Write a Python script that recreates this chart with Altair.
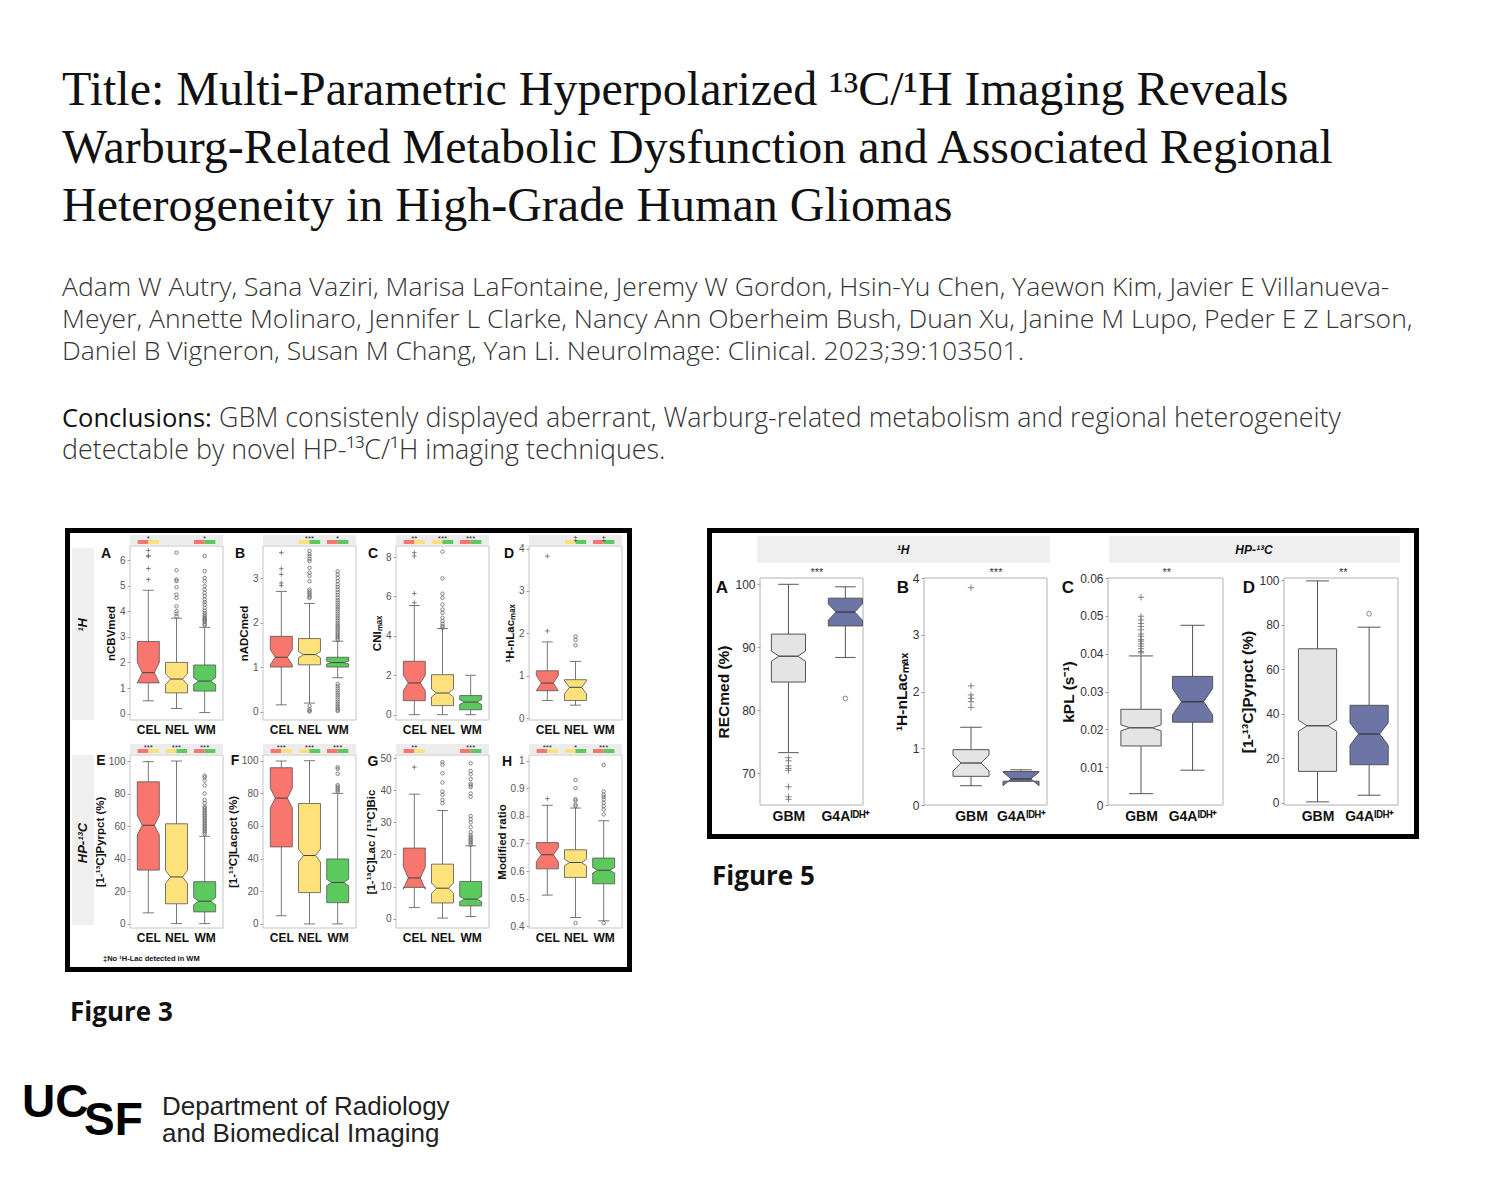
import json
import signal
import altair as alt
import pandas as pd


def _alarm(signum, frame):
    raise TimeoutError("python side too slow")


signal.signal(signal.SIGALRM, _alarm)
signal.alarm(90)

# ---------------- page text ----------------
TITLE_LINES = [
    "Title: Multi-Parametric Hyperpolarized ¹³C/¹H Imaging Reveals",
    "Warburg-Related Metabolic Dysfunction and Associated Regional",
    "Heterogeneity in High-Grade Human Gliomas",
]
AUTHOR_LINES = [
    "Adam W Autry, Sana Vaziri, Marisa LaFontaine, Jeremy W Gordon, Hsin-Yu Chen, Yaewon Kim, Javier E Villanueva-",
    "Meyer, Annette Molinaro, Jennifer L Clarke, Nancy Ann Oberheim Bush,  Duan Xu, Janine M Lupo, Peder E Z Larson,",
    "Daniel B Vigneron, Susan M Chang, Yan Li. NeuroImage: Clinical. 2023;39:103501.",
]
CONCL_LABEL = "Conclusions:"
CONCL_LINE1 = "GBM consistenly displayed aberrant, Warburg-related metabolism and regional heterogeneity"
CONCL_LINE2 = "detectable by novel HP-¹³C/¹H imaging techniques."
FIG3_LABEL = "Figure 3"
FIG5_LABEL = "Figure 5"
LOGO_TOP = "UC"
LOGO_BOTTOM = "SF"
DEPT_LINES = ["Department of Radiology", "and Biomedical Imaging"]
FOOTNOTE = "‡No ¹H-Lac detected in WM"

# ---------------- Figure 3 data ----------------
F3_CATS = ["CEL", "NEL", "WM"]
F3_ROWS = ["¹H", "HP-¹³C"]
F3_LETTERS = ["A", "B", "C", "D", "E", "F", "G", "H"]
# box rows: [whisker low, q1, median, q3, whisker high, notch half-height]
F3A_BOX = [[0.5, 1.2, 1.6, 2.82, 4.82, 0.4], [0.2, 0.81, 1.35, 2.0, 3.73, 0.22], [0.04, 0.88, 1.27, 1.9, 3.37, 0.13]]
F3A_OUT = [[6.38, 6.16, 6.16, 5.67, 5.24],
           [6.29, 5.6, 5.24, 5.18, 4.94, 4.65, 4.52, 4.19, 4.0, 3.9, 3.8],
           [6.16, 5.57, 5.3, 5.17, 4.98, 4.85, 4.72, 4.59, 4.46, 4.36, 4.26, 4.13, 4.02, 3.93, 3.84, 3.79, 3.73, 3.68, 3.63, 3.58, 3.5, 3.45]]
F3A_SIG = [[1, "*"], [3, "*"]]
F3A_TICKS = [0, 1, 2, 3, 4, 5, 6]

F3B_BOX = [[0.15, 1.0, 1.22, 1.69, 2.70, 0.17], [0.19, 1.05, 1.28, 1.64, 2.43, 0.07], [0.76, 1.0, 1.1, 1.22, 1.58, 0.03]]
F3B_OUT = [[3.57, 3.21, 3.08, 2.89, 2.83],
           [3.61, 3.54, 3.49, 3.43, 3.38, 3.23, 3.12, 3.05, 2.93, 2.74, 2.70, 2.66, 2.62, 2.58, 2.55, 0.13, 0.05, 0.02, 0.0],
           [3.15, 3.08, 3.0, 2.93, 2.86, 2.80, 2.74, 2.68, 2.62, 2.56, 2.50, 2.45, 2.40, 2.35, 2.30, 2.25, 2.20, 2.15,
            2.10, 2.05, 2.00, 1.96, 1.92, 1.88, 1.84, 1.80, 1.76, 1.72, 1.68, 1.64, 1.61,
            0.62, 0.57, 0.52, 0.47, 0.42, 0.37, 0.32, 0.27, 0.22, 0.17, 0.12, 0.08, 0.04, 0.01]]
F3B_SIG = [[2, "***"], [3, "*"]]
F3B_TICKS = [0, 1, 2, 3]

F3C_BOX = [[0, 0.71, 1.61, 2.71, 5.54, 0.4], [0, 0.46, 1.1, 2.03, 4.37, 0.2], [0, 0.25, 0.64, 0.97, 2.0, 0.12]]
F3C_OUT = [[8.22, 8.05, 6.15, 5.68],
           [8.27, 6.92, 6.14, 5.93, 5.59, 5.34, 5.17, 4.92, 4.75, 4.61, 4.49, 4.41],
           []]
F3C_SIG = [[1, "**"], [2, "***"], [3, "***"]]
F3C_TICKS = [0, 2, 4, 6, 8]

F3D_BOX = [[0.42, 0.65, 0.83, 1.12, 1.80, 0.18], [0.31, 0.42, 0.73, 0.91, 1.34, 0.15], None]
F3D_OUT = [[3.82, 2.06], [1.93, 1.85, 1.72], []]
F3D_SIG = [[2, "‡"], [3, "‡"]]
F3D_TICKS = [0, 1, 2, 3, 4]

F3E_BOX = [[6.6, 32.9, 60.5, 87.2, 99.6, 6], [0, 12.2, 28.7, 61.4, 100, 4], [0, 7.2, 13.8, 25.8, 53.7, 2.2]]
F3E_OUT = [[], [], [55, 56, 57, 58, 59, 60, 61, 62, 63, 64, 65, 66, 67, 68, 69, 70, 71, 72, 74, 76, 80, 85, 88, 90, 91]]
F3E_SIG = [[1, "***"], [2, "***"], [3, "***"]]
PCT_TICKS = [0, 20, 40, 60, 80, 100]

F3F_BOX = [[5.0, 47.2, 77.1, 95.7, 99.8, 6], [0, 19.2, 41.9, 73.8, 100, 4], [0, 13.0, 25.4, 39.8, 80, 2]]
F3F_OUT = [[], [], [81, 82, 83, 84, 85, 92, 95, 96]]
F3F_SIG = [[1, "***"], [2, "***"], [3, "***"]]

F3G_BOX = [[3.5, 9.75, 12.7, 22.0, 38.8, 3.5], [0.2, 4.9, 9.5, 17.0, 33.7, 1.6], [0.7, 4.0, 6.1, 11.6, 22.7, 0.8]]
F3G_OUT = [[47.2],
           [48.8, 48.0, 45.3, 42.4, 39.6, 38.6, 37.0, 36.0],
           [48.4, 46.0, 45.0, 43.5, 42.0, 41.5, 41.0, 39.0, 38.0, 32.0, 31.0, 30.0, 28.5, 27.0, 26.0, 25.5, 25.0, 24.5, 24.0, 23.5, 23.0]]
F3G_SIG = [[1, "**"], [3, "***"]]
F3G_TICKS = [0, 10, 20, 30, 40, 50]

F3H_BOX = [[0.513, 0.608, 0.659, 0.703, 0.838, 0.025], [0.432, 0.577, 0.631, 0.677, 0.828, 0.012], [0.42, 0.554, 0.603, 0.647, 0.782, 0.01]]
F3H_OUT = [[0.862],
           [0.93, 0.90, 0.86, 0.855, 0.84, 0.835, 0.412],
           [0.984, 0.888, 0.876, 0.868, 0.859, 0.847, 0.835, 0.823, 0.805, 0.412]]
F3H_SIG = [[1, "***"], [2, "*"], [3, "***"]]
F3H_TICKS = [0.4, 0.5, 0.6, 0.7, 0.8, 0.9, 1.0]

F3_YTITLES = ["nCBVmed", "nADCmed", "CNIₘₐₓ", "¹H-nLacₘₐₓ",
              "[1-¹³C]Pyrpct (%)", "[1-¹³C]Lacpct (%)", "[1-¹³C]Lac / [¹³C]Bic", "Modified ratio"]

# ---------------- Figure 5 data ----------------
F5_CATS = ["GBM", "G4Aᴵᴰᴴ⁺"]
F5_STRIPS = ["¹H", "HP-¹³C"]
F5_LETTERS = ["A", "B", "C", "D"]
F5_STARS = ["***", "***", "**", "**"]
F5A_BOX = [[73.3, 84.5, 88.6, 92.1, 100, 0.8], [88.4, 93.4, 95.6, 97.8, 99.6, 1.3]]
F5A_OUT = [[72.5, 72.0, 71.2, 70.8, 70.5, 67.9, 66.3, 65.9], [81.9]]
F5A_TICKS = [70, 80, 90, 100]
F5B_BOX = [[0.34, 0.505, 0.74, 0.975, 1.37, 0.14], [0.42, 0.42, 0.46, 0.59, 0.62, 0.12]]
F5B_OUT = [[3.83, 2.10, 1.94, 1.88, 1.82, 1.72], []]
F5B_TICKS = [0, 1, 2, 3, 4]
F5C_BOX = [[0.003, 0.0156, 0.0204, 0.0253, 0.0394, 0.0008], [0.0092, 0.0219, 0.0273, 0.034, 0.0475, 0.0035]]
F5C_OUT = [[0.0549, 0.0499, 0.0489, 0.048, 0.0472, 0.0463, 0.0452, 0.0446, 0.0437, 0.0433, 0.0426, 0.042, 0.0413, 0.0406, 0.0402], []]
F5C_TICKS = [0, 0.01, 0.02, 0.03, 0.04, 0.05, 0.06]
F5D_BOX = [[0.4, 14.1, 34.6, 69.2, 99.7, 2.5], [3.4, 17.1, 30.9, 43.8, 78.9, 5]]
F5D_OUT = [[], [84.9]]
F5_YTITLES = ["RECmed (%)", "¹H-nLacₘₐₓ", "kPL (s⁻¹)", "[1-¹³C]Pyrpct (%)"]

# ---------------- styles ----------------
SANS = "Liberation Sans"
SERIF = "Liberation Serif"
OPEN = "Open Sans"
CROSS = "M-1,0L1,0M0,-1L0,1"
F3_FILLS = ["#f8766d", "#fde17a", "#5bc95e"]
F3_MARK = [CROSS, "circle", "circle"]
F3_MSIZE = [22, 12, 12]
F5_FILLS = ["#e4e4e4", "#6d74a6"]
F5_MARK = [CROSS, "circle"]
F5_MSIZE = [40, 22]

df0 = pd.DataFrame({"k": [0]})


def blank(w, h):
    return alt.Chart(df0).mark_rect(opacity=0).encode(
        x=alt.value(0), x2=alt.value(w), y=alt.value(0), y2=alt.value(h)
    ).properties(width=w, height=h)


def rect(x0, x1, y0, y1, color):
    return alt.Chart(df0).mark_rect(color=color).encode(
        x=alt.value(x0), x2=alt.value(x1), y=alt.value(y0), y2=alt.value(y1))


def frame(x0, x1, y0, y1, sw, color="black"):
    return alt.Chart(df0).mark_rect(fillOpacity=0, stroke=color, strokeWidth=sw).encode(
        x=alt.value(x0), x2=alt.value(x1), y=alt.value(y0), y2=alt.value(y1))


def txt(x, y, s, size, font=SANS, weight="normal", color="#111", style="normal",
        lh=None, align="left", baseline="alphabetic", angle=None):
    mk = dict(align=align, baseline=baseline, font=font, fontSize=size,
              fontWeight=weight, color=color, fontStyle=style)
    if lh:
        mk["lineHeight"] = lh
    if angle is not None:
        mk["angle"] = angle
    return alt.Chart(df0).mark_text(**mk).encode(
        x=alt.value(x), y=alt.value(y), text=alt.value(s))


def deco(w, h, items):
    return alt.layer(blank(w, h), *items).properties(width=w, height=h)


def box_panel(box, out, cats, fills, marks, msizes, xdom, ydom, yticks, w, H, y_top, ph,
              ytitle, letter, ldx, ldy, lfs, lab_fs, tick_fs, title_fs, bw, capf,
              framec, sig=None, star=None, tick_color="#555",
              edge="#555", med_col="#444", wcol="#555", sw=0.9):
    xs = alt.Scale(domain=xdom, nice=False, zero=False)
    ys = alt.Scale(domain=ydom, range=[y_top + ph, y_top], nice=False, zero=False)
    lexpr = json.dumps(cats, ensure_ascii=False) + "[round(datum.value) - 1]"
    xkw = dict(values=list(range(1, len(cats) + 1)), labelExpr=lexpr, title=None,
               ticks=False, domain=False, grid=False, labelFont=SANS,
               labelFontSize=lab_fs, labelFontWeight="bold", labelColor="#111",
               labelPadding=4, labelOverlap=False, labelFlush=False)
    if y_top + ph != H:
        xkw["offset"] = y_top + ph - H
    xaxis = alt.Axis(**xkw)
    yaxis = alt.Axis(values=yticks, labelExpr="format(datum.value, '~g')", title=ytitle,
                     grid=False, domain=False,
                     tickSize=3, tickColor="#999", labelFont=SANS, labelFontSize=tick_fs,
                     labelColor=tick_color, labelPadding=2, labelFlush=False,
                     labelOverlap=False, titleFont=SANS, titleFontSize=title_fs,
                     titleFontWeight="bold", titleColor="#111", titlePadding=3)

    def X(f, **kw):
        return alt.X(f, scale=xs, axis=xaxis, **kw)

    def Y(f, **kw):
        return alt.Y(f, scale=ys, axis=yaxis, **kw)

    poly, meds, whisk, caps, pts = [], [], [], [], []
    for i, cat in enumerate(cats):
        b = box[i]
        c = i + 1
        if b is not None:
            wlo, q1, md, q3, whi, nt = b
            hw = bw / 2.0
            nw = hw * 0.55
            cw = hw * capf
            outline = [(-hw, q1), (-hw, md - nt), (-nw, md), (-hw, md + nt), (-hw, q3),
                       (hw, q3), (hw, md + nt), (nw, md), (hw, md - nt), (hw, q1), (-hw, q1)]
            for k, (dx, yy) in enumerate(outline):
                poly.append(dict(cat=cat, k=k, px=c + dx, py=yy, fill=fills[i]))
            meds.append(dict(y=md, xl=c - nw, xr=c + nw))
            whisk.append(dict(x=c, y1=wlo, y2=q1))
            whisk.append(dict(x=c, y1=q3, y2=whi))
            caps.append(dict(y=wlo, xl=c - cw, xr=c + cw))
            caps.append(dict(y=whi, xl=c - cw, xr=c + cw))
        for v in out[i]:
            pts.append(dict(x=c, y=v, shape=marks[i], size=msizes[i]))

    layers = [frame(0, w, y_top, y_top + ph, 1, framec)]
    if sig is not None:
        layers.append(rect(0, w, y_top - 11, y_top - 1, "#ececec"))
        pairs = {1: (fills[0], fills[1]), 2: (fills[1], fills[2]), 3: (fills[0], fills[2])}
        bars, stars = [], []
        for pos, s in sig:
            ca, cb = pairs[pos]
            bars.append(dict(x1=pos - 0.38, x2=pos, col=ca))
            bars.append(dict(x1=pos, x2=pos + 0.38, col=cb))
            stars.append(dict(pos=pos, s=s))
        layers.append(alt.Chart(pd.DataFrame(bars)).mark_rect().encode(
            x=X("x1:Q"), x2="x2:Q", y=alt.value(y_top - 6), y2=alt.value(y_top - 2),
            color=alt.Color("col:N", scale=None)))
        layers.append(alt.Chart(pd.DataFrame(stars)).mark_text(
            font=SANS, fontSize=8, color="#333", baseline="middle").encode(
            x=X("pos:Q"), y=alt.value(y_top - 7), text="s:N"))
    if star is not None:
        sdf = pd.DataFrame({"pos": [(1 + len(cats)) / 2.0], "s": [star]})
        layers.append(alt.Chart(sdf).mark_text(
            font=SANS, fontSize=11, color="#333", baseline="middle").encode(
            x=X("pos:Q"), y=alt.value(y_top - 5), text="s:N"))

    layers.append(alt.Chart(pd.DataFrame(whisk)).mark_rule(color=wcol, strokeWidth=sw).encode(
        x=X("x:Q"), y=Y("y1:Q"), y2="y2:Q"))
    layers.append(alt.Chart(pd.DataFrame(caps)).mark_rule(color=wcol, strokeWidth=sw).encode(
        x=X("xl:Q"), x2="xr:Q", y=Y("y:Q")))
    layers.append(alt.Chart(pd.DataFrame(poly)).mark_line(
        filled=True, stroke=edge, strokeWidth=sw, strokeJoin="miter").encode(
        x=X("px:Q"), y=Y("py:Q"),
        color=alt.Color("fill:N", scale=None), detail="cat:N", order="k:Q"))
    layers.append(alt.Chart(pd.DataFrame(meds)).mark_rule(color=med_col, strokeWidth=sw + 0.2).encode(
        x=X("xl:Q"), x2="xr:Q", y=Y("y:Q")))
    if pts:
        layers.append(alt.Chart(pd.DataFrame(pts)).mark_point(
            filled=False, color="#666", strokeWidth=0.8, opacity=1).encode(
            x=X("x:Q"), y=Y("y:Q"), shape=alt.Shape("shape:N", scale=None),
            size=alt.Size("size:Q", scale=None)))
    layers.append(txt(ldx, y_top + ldy, letter, lfs, weight="bold", align="center", baseline="middle"))
    return alt.layer(*layers).properties(width=w, height=H)


def f3panel(idx, box, out, sig, ticks, ydom, h, ldx, ldy):
    return box_panel(box, out, F3_CATS, F3_FILLS, F3_MARK, F3_MSIZE, [0.35, 3.65], ydom, ticks,
                     93, h, 0, h, F3_YTITLES[idx], F3_LETTERS[idx], ldx, ldy, 14, 12, 10, 11.5,
                     0.78, 0.5, "#c4c4c4", sig=sig, sw=0.8)


# Figure 5 panels sit in the first grid row (height 546); their plot area is 578..805 px
F5_ROW_H = 546
F5_TOP = 578
F5_PH = 227


def f5panel(idx, box, out, ticks, ydom, xdom, w, ldx, bw):
    return box_panel(box, out, F5_CATS, F5_FILLS, F5_MARK, F5_MSIZE, xdom, ydom, ticks,
                     w, F5_ROW_H, F5_TOP, F5_PH, F5_YTITLES[idx], F5_LETTERS[idx], ldx, 10,
                     17, 14, 12, 15.5, bw, 0.6, "#b0b0b0", star=F5_STARS[idx],
                     tick_color="#333", edge="#555", med_col="#333", sw=1.0)


# ---------------- panels ----------------
pA = f3panel(0, F3A_BOX, F3A_OUT, F3A_SIG, F3A_TICKS, [-0.25, 6.55], 174, -24, 8)
pB = f3panel(1, F3B_BOX, F3B_OUT, F3B_SIG, F3B_TICKS, [-0.19, 3.72], 174, -23, 8)
pC = f3panel(2, F3C_BOX, F3C_OUT, F3C_SIG, F3C_TICKS, [-0.27, 8.56], 174, -23, 8)
pD = f3panel(3, F3D_BOX, F3D_OUT, F3D_SIG, F3D_TICKS, [-0.04, 4.06], 174, -20, 8)
pE = f3panel(4, F3E_BOX, F3E_OUT, F3E_SIG, PCT_TICKS, [-2.7, 103.7], 173, -29, 6)
pF = f3panel(5, F3F_BOX, F3F_OUT, F3F_SIG, PCT_TICKS, [-2.5, 103.5], 173, -28, 6)
pG = f3panel(6, F3G_BOX, F3G_OUT, F3G_SIG, F3G_TICKS, [-2.9, 51.0], 173, -23, 7)
pH = f3panel(7, F3H_BOX, F3H_OUT, F3H_SIG, F3H_TICKS, [0.394, 1.02], 173, -22, 7)

qA = f5panel(0, F5A_BOX, F5A_OUT, F5A_TICKS, [65, 101], [0.5, 2.31], 103, -38, 0.6)
qB = f5panel(1, F5B_BOX, F5B_OUT, F5B_TICKS, [0, 4], [0.06, 2.52], 123, -21, 0.72)
qC = f5panel(2, F5C_BOX, F5C_OUT, F5C_TICKS, [0, 0.06], [0.36, 2.59], 115, -40, 0.78)
qD = f5panel(3, F5D_BOX, F5D_OUT, PCT_TICKS, [-1, 101], [0.35, 2.56], 114, -35, 0.74)

# ---------------- decoration units ----------------
header = deco(130, 546, [
    txt(62, 105, TITLE_LINES, 48, font=SERIF, color="#111", lh=58),
    txt(62, 296, AUTHOR_LINES, 26.5, font=OPEN, weight=300, color="#333", lh=32),
    txt(62, 427, CONCL_LABEL, 25.5, font=OPEN, weight=500, color="#111"),
    txt(219, 427, CONCL_LINE1, 26.8, font=OPEN, weight=300, color="#333"),
    txt(62, 459, CONCL_LINE2, 26.8, font=OPEN, weight=300, color="#333"),
    frame(67.5, 629.5, 530.5, 969.5, 5),
])

band1 = deco(130, 209, [
    rect(72, 94, 2, 174, "#efefef"),
    txt(83, 79, F3_ROWS[0], 13, weight="bold", style="italic", align="center",
        baseline="middle", angle=270),
])
band2 = deco(130, 173, [
    rect(72, 94, 0, 170, "#efefef"),
    txt(83, 88, F3_ROWS[1], 13, weight="bold", style="italic", align="center",
        baseline="middle", angle=270),
    txt(103, 206, FOOTNOTE, 7.5, weight="bold", color="#111"),
    txt(70, 266, FIG3_LABEL, 26, font=OPEN, weight="bold", color="#111"),
    txt(22, 362, LOGO_TOP, 46, weight="bold", color="#000"),
    txt(84, 380, LOGO_BOTTOM, 46, weight="bold", color="#000"),
    txt(162, 360, DEPT_LINES, 26, font=SANS, color="#222", lh=27),
])
decor5 = deco(138, 546, [
    frame(87.5, 794.5, 530.5, 836.5, 5),
    rect(135, 428, 536, 563, "#efefef"),
    rect(487, 778, 536, 563, "#efefef"),
    txt(281, 550, F5_STRIPS[0], 12, weight="bold", style="italic", align="center", baseline="middle"),
    txt(632, 550, F5_STRIPS[1], 12, weight="bold", style="italic", align="center", baseline="middle"),
    txt(90, 885, FIG5_LABEL, 26, font=OPEN, weight="bold", color="#111"),
])

# ---------------- flow grid (16 columns x 3 rows) ----------------
WIDTHS = [130, 93, 40, 93, 40, 93, 40, 93, 138, 103, 61, 123, 61, 115, 61, 114]
rows = [
    {0: header, 8: decor5, 9: qA, 11: qB, 13: qC, 15: qD},
    {0: band1, 1: pA, 3: pB, 5: pC, 7: pD},
    {0: band2, 1: pE, 3: pF, 5: pG, 7: pH},
]
cells = []
for row in rows:
    for c, w in enumerate(WIDTHS):
        cells.append(row[c] if c in row else blank(w, 1))


class Page(alt.ConcatChart):
    def to_dict(self, *args, **kwargs):
        kwargs["validate"] = False
        return super().to_dict(*args, **kwargs)


chart = Page(concat=cells, columns=len(WIDTHS), spacing=0, bounds="flush", align="none",
             padding=0, background="white",
             config=alt.Config(view=alt.ViewConfig(stroke=None)))
chart.save("out.html", embed_options={"renderer": "svg", "actions": False})
signal.alarm(0)
